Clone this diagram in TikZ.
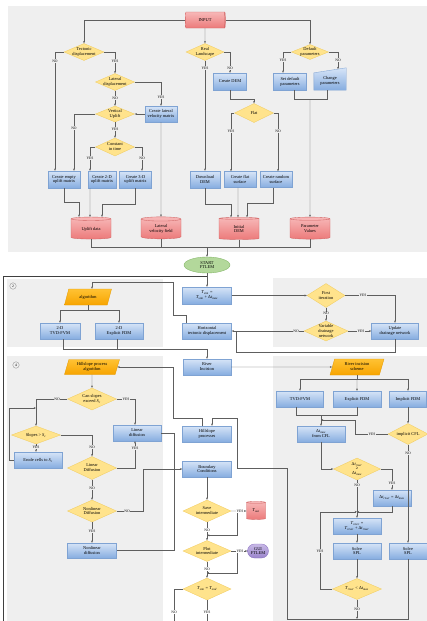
\documentclass[tikz,border=0pt]{standalone}
\usepackage{fontspec}
\setmainfont{Liberation Serif}
\usetikzlibrary{shapes.geometric,shapes.misc,arrows.meta}
\pgfdeclarelayer{bg}
\pgfsetlayers{bg,main}
\definecolor{panelc}{HTML}{EFEFEF}
\definecolor{linec}{HTML}{5E5E5E}
\definecolor{bluetop}{HTML}{D6E4F7}
\definecolor{bluebot}{HTML}{86ADE0}
\definecolor{bluedraw}{HTML}{7FA3D3}
\definecolor{yellfill}{HTML}{FFE38C}
\definecolor{yelldraw}{HTML}{F1CD62}
\definecolor{orgtop}{HTML}{FFC233}
\definecolor{orgbot}{HTML}{F7A400}
\definecolor{orgdraw}{HTML}{E59A00}
\definecolor{redbody}{HTML}{EC7A7A}
\definecolor{redend}{HTML}{F7B8B8}
\definecolor{reddraw}{HTML}{D06464}
\definecolor{grnfill}{HTML}{B3D89B}
\definecolor{grndraw}{HTML}{82B565}
\definecolor{purtop}{HTML}{C8B9E6}
\definecolor{purbot}{HTML}{9A84CC}
\definecolor{purdraw}{HTML}{8B72C2}
\definecolor{loopc}{HTML}{3F3F3F}
\newcommand\figfont{\fontsize{4.4}{4.9}\selectfont}
\newcommand\lblfont{\fontsize{3.7}{4}\selectfont}
\newcommand\vs[2]{\textit{#1}\textsubscript{\textit{#2}}}
\tikzset{
  base/.style={font=\figfont, align=center, inner sep=0pt, line width=0.35pt},
  box/.style={base, rectangle, draw=bluedraw, top color=bluetop, bottom color=bluebot, minimum width=48pt, minimum height=16pt},
  dia/.style={base, diamond, draw=yelldraw, fill=yellfill},
  dtxt/.style={font=\figfont, align=center, inner sep=0pt},
  cylv/.style={base, cylinder, shape border rotate=90, aspect=0.18, draw=reddraw, top color=redend, bottom color=redbody},
  cylh/.style={base, cylinder, aspect=0.4, draw=reddraw, top color=redend, bottom color=redbody},
  para/.style={base, trapezium, trapezium left angle=72, trapezium right angle=108, trapezium stretches=true, draw=orgdraw, top color=orgtop, bottom color=orgbot},
  ln/.style={draw=linec, line width=0.45pt},
  arr/.style={ln, -{Stealth[length=2.3pt,width=1.9pt]}},
  loopln/.style={draw=loopc, line width=0.9pt},
  lbl/.style={font=\lblfont, inner sep=0.4pt, fill=panelc},
  lblw/.style={font=\lblfont, inner sep=0.4pt, fill=white},
  circ/.style={circle, draw=gray, line width=0.3pt, inner sep=0.2pt, minimum size=6.5pt, font=\lblfont}
}
\begin{document}
\begin{tikzpicture}[x=1pt,y=-1pt]
\useasboundingbox (0,0) rectangle (427,621);
\begin{pgfonlayer}{bg}
\fill[white] (0,0) rectangle (427,621);
\fill[panelc] (8,6) rectangle (427,252);
\fill[panelc] (7,279) rectangle (163,347);
\fill[panelc] (273,278) rectangle (427,347);
\fill[panelc] (7,356) rectangle (163,623);
\fill[panelc] (273,356) rectangle (427,623);
\end{pgfonlayer}

% ---------- top input section ----------
\node[cylh, minimum width=16pt, minimum height=40pt] (input) at (205,20) {INPUT};
\node[dia, minimum width=40pt, minimum height=17pt, label={[dtxt]center:{Tectonic\\displacement}}] (tec) at (84,52) {};
\node[dia, minimum width=39pt, minimum height=17pt, label={[dtxt]center:{Lateral\\displacement}}] (lat) at (115,82) {};
\node[box, minimum width=32pt] (clat) at (161,114) {Create lateral\\velocity matrix};
\node[dia, minimum width=39pt, minimum height=16pt, label={[dtxt]center:{Vertical\\Uplift}}] (vup) at (115,114) {};
\node[dia, minimum width=39pt, minimum height=18pt, label={[dtxt]center:{Constant\\in time}}] (const) at (115,147) {};
\node[box, minimum width=32pt, minimum height=17pt] (cempty) at (64,179.5) {Create empty\\uplift matrix};
\node[box, minimum width=28pt, minimum height=17pt] (c2d) at (102,179.5) {Create 2-D\\uplift matrix};
\node[box, minimum width=32pt, minimum height=17pt] (c3d) at (135.5,179.5) {Create 3-D\\uplift matrix};
\node[cylv, minimum width=40pt, minimum height=22pt] (upl) at (91,229) {Uplift data};
\node[cylv, minimum width=40pt, minimum height=22pt] (lvf) at (161,229) {Lateral\\velocity field};

\node[dia, minimum width=38pt, minimum height=17pt, label={[dtxt]center:{Real\\Landscape}}] (real) at (205,52) {};
\node[box, minimum width=33pt, minimum height=17pt] (cdem) at (230,81.5) {Create DEM};
\node[dia, minimum width=39pt, minimum height=19pt, label={[dtxt]center:{Flat}}] (flat) at (254,113) {};
\node[box, minimum width=30pt, minimum height=17pt] (ddem) at (205,179.5) {Download\\DEM};
\node[box, minimum width=32pt] (cflat) at (240,179.5) {Create flat\\surface};
\node[box, minimum width=32pt] (crand) at (276,179.5) {Create random\\surface};
\node[cylv, minimum width=40pt, minimum height=22pt] (idem) at (239,229) {Initial\\DEM};

\node[dia, minimum width=37pt, minimum height=15pt, label={[dtxt]center:{Default\\parameters}}] (def) at (310,52) {};
\node[box, minimum width=33pt, minimum height=17pt] (sdef) at (290,81.5) {Set default\\parameters};
\node[base, minimum width=32pt, minimum height=18pt] (chg) at (330,81) {Change\\parameters};
\node[cylv, minimum width=40pt, minimum height=22pt] (par) at (310,229) {Parameter\\Values};
\begin{pgfonlayer}{bg}
\shade[top color=bluetop, bottom color=bluebot, draw=bluedraw, line width=0.35pt]
  (chg.south west) -- ([yshift=-1pt]chg.north west) -- ([yshift=4pt]chg.north east) -- (chg.south east) -- cycle;
\end{pgfonlayer}

\node[base, ellipse, draw=grndraw, fill=grnfill, minimum width=46pt, minimum height=16pt] (start) at (207,265) {START\\FTLEM};

\draw[arr] (input.west) -| (tec.north);
\draw[arr] (input.south) -- (real.north);
\draw[arr] (input.east) -| (def.north);
\draw[arr] (tec.west) -| ([xshift=-9pt]cempty.north);
\draw[arr] (tec.east) -| (lat.north);
\draw[arr] (lat.east) -| (clat.north);
\draw[arr] (lat.south) -- (vup.north);
\draw[arr] (clat.west) -- (vup.east);
\draw[arr] (vup.west) -| ([xshift=10pt]cempty.north);
\draw[arr] (vup.south) -- (const.north);
\draw[arr] (const.west) -| ([xshift=-12pt]c2d.north);
\draw[arr] (const.east) -| ([xshift=6.5pt]c3d.north);
\draw[arr] (cempty.south) -- ++(0,14) -| ([xshift=-12pt]upl.north);
\draw[arr] ([xshift=-12pt]c2d.south) -- ([xshift=-1pt]upl.north);
\draw[arr] (c3d.south) -- ++(0,16) -| ([xshift=11pt]upl.north);
\draw[arr] (clat.south) -- (lvf.north);
\draw[arr] (real.south) -- (ddem.north);
\draw[arr] (real.east) -| (cdem.north);
\draw[arr] (cdem.south) -- ++(0,9) -| (flat.north);
\draw[arr] (flat.west) -| ([xshift=-9pt]cflat.north);
\draw[arr] (flat.east) -| ([xshift=2pt]crand.north);
\draw[arr] (ddem.south) -- ++(0,16) -| ([xshift=-8pt]idem.north);
\draw[arr] ([xshift=-2pt]cflat.south) -- ([xshift=-1pt]idem.north);
\draw[arr] ([xshift=-3pt]crand.south) -- ++(0,16) -| ([xshift=8pt]idem.north);
\draw[arr] (def.west) -| ([xshift=-7pt]sdef.north);
\draw[arr] (def.east) -| ([xshift=8pt,yshift=2.7pt]chg.north);
\coordinate (jdef) at (310,99);
\draw[ln] ([xshift=4pt]sdef.south) |- (jdef);
\draw[ln] ([xshift=-3pt]chg.south) |- (jdef);
\draw[arr] (jdef) -- (par.north);
\draw[ln] (upl.south) -- ++(0,8) -| (par.south);
\draw[ln] (lvf.south) -- ++(0,8);
\draw[ln] (idem.south) -- ++(0,8);
\coordinate (jb) at (207,248);
\draw[arr] (jb) -- (start.north);

% ---------- main loop column ----------
\node[box, minimum width=49pt, minimum height=17pt] (tsim) at (207,295.5) {\vs{T}{sim} =\\\vs{T}{sim} + Δ\vs{t}{max}};
\node[box, minimum width=49pt] (hor) at (207,331) {Horizontal\\tectonic displacement};
\node[box] (riv) at (207,367) {River\\Incision};
\node[box, minimum width=49pt] (hp) at (207,434) {Hillslope\\processes};
\node[box, minimum width=49pt] (bc) at (207,469) {Boundary\\Conditions};
\node[dia, minimum width=48pt, minimum height=22pt, label={[dtxt]center:{Save\\intermediate}}] (sav) at (207,511) {};
\node[dia, minimum width=48pt, minimum height=21pt, label={[dtxt]center:{Plot\\intermediate}}] (plt) at (207,551) {};
\node[dia, minimum width=48pt, minimum height=22pt, label={[dtxt]center:{\vs{T}{sim} = \vs{T}{end}}}] (tsend) at (207,589) {};
\node[cylv, aspect=0.26, minimum width=19pt, minimum height=18pt] (tout) at (256,511) {\vs{T}{out}};
\node[base, rounded rectangle, draw=purdraw, top color=purtop, bottom color=purbot, minimum width=21pt, minimum height=14pt] (gui) at (258,551) {GUI\\FTLEM};

\draw[arr] (start.south) -- (tsim.north);
\coordinate (lpA) at (174,623);
\coordinate (lpB) at (3,623);
\coordinate (lpC) at (3,276);
\coordinate (lpD) at (207,276);
\draw[ln] (tsend.west) -| (lpA);
\draw[loopln] (lpA) -- (lpB) -- (lpC) -- (lpD);
\coordinate (endc) at (207,623);
\draw[ln] (tsend.south) -- (endc);

% ---------- section 2 ----------
\node[circ] (c2) at (13,286) {2};
\node[para, minimum width=47pt, minimum height=16pt] (alg) at (88,297) {\mbox{}\\algorithm};
\node[box, minimum width=40pt] (tvd1) at (60,331) {2-D\\TVD-FVM};
\node[box] (efdm1) at (119,331) {2-D\\Explicit FDM};
\coordinate (hA) at (173,315);
\coordinate (hB) at (173,282);
\draw[arr] ([xshift=-21pt]hor.north) |- (hA) -- (hB) -| ([xshift=4pt]alg.north);
\draw[ln] (alg.south) -- ++(0,5) coordinate (aj);
\draw[arr] (aj) -| (tvd1.north);
\draw[arr] (aj) -| (efdm1.north);
\draw[arr] ([xshift=3pt]tvd1.south) |- ([yshift=10pt]riv.north) -- (riv.north);
\draw[ln] ([xshift=-2pt]efdm1.south) -- ++(0,10);

% ---------- section 3 ----------
\node[dia, minimum width=38pt, minimum height=24pt, label={[dtxt]center:{First\\iteration}}] (fit) at (326,295.5) {};
\node[dia, minimum width=44pt, minimum height=20pt, label={[dtxt]center:{Variable\\drainage\\network}}] (vdn) at (326,331) {};
\node[box, minimum width=47pt] (upd) at (395,331) {Update\\drainage network};
\draw[arr] (tsim.east) -- (fit.west);
\draw[arr] (fit.east) -| (upd.north);
\draw[arr] (fit.south) -- (vdn.north);
\draw[arr] (vdn.east) -- (upd.west);
\draw[arr] (vdn.west) -- (hor.east);
\draw[ln] (upd.south) -- ++(0,13) -| ([xshift=5pt]hor.east);

% ---------- section 4 ----------
\node[circ] (c4) at (16,365) {4};
\node[para, minimum width=55pt, minimum height=15pt] (hpa) at (92,367) {Hillslope process\\algorithm};
\node[dia, minimum width=49pt, minimum height=22pt, label={[dtxt]center:{Can slopes\\exceed \vs{S}{c}}}] (cse) at (92,399) {};
\node[dia, minimum width=49pt, minimum height=18pt, label={[dtxt]center:{Slopes > \vs{S}{c}}}] (slp) at (36,435) {};
\node[box] (ero) at (38,460) {Erode cells to \vs{S}{c}};
\node[box] (lbox) at (137,433) {Linear\\diffusion};
\node[dia, minimum width=49pt, minimum height=23pt, label={[dtxt]center:{Linear\\Diffusion}}] (lind) at (92,468) {};
\node[dia, minimum width=49pt, minimum height=22pt, label={[dtxt]center:{Nonlinear\\Diffusion}}] (nld) at (92,511) {};
\node[box, minimum width=49pt, minimum height=15pt] (nlbox) at (92,550.5) {Nonlinear\\diffusion};
\coordinate (hq) at (173,418);
\draw[arr] ([xshift=-5pt]hp.north) |- (hq) |- (hpa.east);
\draw[arr] (hpa.south) -- (cse.north);
\draw[arr] (cse.west) -| (slp.north);
\draw[arr] (cse.east) -| ([xshift=-2pt]lbox.north);
\draw[arr] (slp.south) -- (slp.south |- ero.north);
\coordinate (eT) at (36,408);
\draw[arr] (ero.west) -- ++(-5,0) |- (eT);
\draw[arr] (slp.east) -| (lind.north);
\draw[arr] (lind.east) -| ([xshift=-2pt]lbox.south);
\draw[arr] (lind.south) -- (nld.north);
\draw[arr] (nld.south) -- (nlbox.north);
\draw[arr] (nld.east) -- ++(26.5,0) |- (bc.west);
\coordinate (dj) at (174,550.5);
\draw[ln] (lbox.east) -| (dj) -- (nlbox.east);

% ---------- middle lower ----------
\draw[arr] (bc.south) -- (sav.north);
\draw[arr] (sav.east) -- (tout.west);
\draw[arr] ([xshift=6pt]sav.east) |- ([yshift=5pt]plt.north);
\draw[arr] (sav.south) -- (plt.north);
\draw[arr] (plt.east) -- (gui.west);
\draw[arr] ([xshift=6pt]plt.east) |- ([yshift=5pt]tsend.north);
\draw[arr] (plt.south) -- (tsend.north);

% ---------- section 5 ----------
\node[para, minimum width=54pt, minimum height=16pt] (ris) at (357,367) {River incision\\scheme};
\node[box, minimum width=47pt] (tvd2) at (300,399) {TVD-FVM};
\node[box] (efdm2) at (357,399) {Explicit FDM};
\node[box, minimum width=37pt] (ifdm) at (408,399) {Implicit FDM};
\node[box] (dtc) at (321,434) {Δ\vs{t}{max}\\from CFL};
\node[dia, minimum width=40pt, minimum height=21pt, label={[dtxt]center:{implicit CFL}}] (icfl) at (408,434) {};
\node[dia, minimum width=47pt, minimum height=22pt, label={[dtxt]center:{Δ\vs{t}{river}\\≥\\Δ\vs{t}{max}}}] (cmp) at (357,469) {};
\node[box, minimum width=38pt] (prv) at (392,498) {Δ\vs{t}{river} = Δ\vs{t}{max}};
\node[box] (trv) at (357,526) {\vs{T}{river} =\\\vs{T}{river} + Δ\vs{t}{river}};
\node[box] (ssp1) at (357,551) {Solve\\SPL};
\node[box, minimum width=38pt] (ssp2) at (408,551) {Solve\\SPL};
\node[dia, minimum width=49pt, minimum height=21pt, label={[dtxt]center:{\vs{T}{river} < Δ\vs{t}{max}}}] (trd) at (357,589) {};

\draw[arr] (riv.east) -- (ris.west);
\draw[ln] (ris.south) -- ++(0,4) coordinate (sj);
\draw[arr] (sj) -| (tvd2.north);
\draw[arr] (sj) -- (efdm2.north);
\draw[arr] (sj) -| (ifdm.north);
\draw[ln] ([xshift=-4pt]tvd2.south) -- ++(0,8) -| (efdm2.south);
\coordinate (mj) at (321,415);
\draw[arr] (mj) -- (dtc.north);
\coordinate (yj) at (321,420);
\draw[arr] (icfl.west) -- ++(-33,0) |- (yj);
\draw[arr] (ifdm.south) -- (icfl.north);
\draw[arr] (icfl.south) -- (ssp2.north);
\draw[arr] (dtc.south) |- (cmp.west);
\draw[arr] (cmp.east) -| (prv.north);
\draw[arr] (cmp.south) -- (trv.north);
\draw[arr] (prv.south) |- ([yshift=6pt]trv.north);
\draw[arr] (trv.south) -- (ssp1.north);
\draw[arr] (ssp1.south) -- (trd.north);
\draw[arr] (trd.west) -- ++(-12.5,0) |- ([yshift=6pt]trv.north);
\coordinate (rA) at (287,619);
\coordinate (rB) at (237,468);
\coordinate (rC) at (212,418);
\draw[arr] (ssp2.south) |- (rA) |- (rB) |- (rC) -- ([xshift=5pt]hp.north);
\coordinate (rD) at (357,619);
\draw[arr] (trd.south) -- (rD);

% ---------- labels ----------
\node[lbl] (t1) at (55,61) {NO};
\node[lbl] (t2) at (115,61) {YES};
\node[lbl] (t3) at (115,98) {NO};
\node[lbl] (t4) at (161,97) {YES};
\node[lbl] (t5) at (74,128) {NO};
\node[lbl] (t6) at (115,129) {YES};
\node[lbl] (t7) at (90,158) {YES};
\node[lbl] (t8) at (142,158) {NO};
\node[lbl] (t9) at (205,68) {YES};
\node[lbl] (t10) at (230,68) {NO};
\node[lbl] (t11) at (231,131) {YES};
\node[lbl] (t12) at (278,131) {NO};
\node[lbl] (t13) at (283,60) {YES};
\node[lbl] (t14) at (338,60) {NO};
\node[lbl] (t15) at (363,295.5) {YES};
\node[lbl] (t16) at (326,313.5) {NO};
\node[lbl] (t17) at (361,331) {YES};
\node[lbl] (t18) at (296,331) {NO};
\node[lbl] (t19) at (57,399) {NO};
\node[lbl] (t20) at (126,399) {YES};
\node[lbl] (t21) at (36,447.5) {YES};
\node[lbl] (t22) at (92,447) {NO};
\node[lbl] (t23) at (135,448) {YES};
\node[lbl] (t24) at (92,488) {NO};
\node[lbl] (t25) at (92,531) {YES};
\node[lbl] (t26) at (127,511) {NO};
\node[lblw] (t27) at (240,511) {YES};
\node[lblw] (t28) at (207,530) {NO};
\node[lblw] (t29) at (240,551) {YES};
\node[lblw] (t30) at (207,569) {NO};
\node[lblw] (t31) at (174,612) {NO};
\node[lblw] (t32) at (207,612) {YES};
\node[lbl] (t33) at (372,434) {YES};
\node[lbl] (t34) at (408,453) {NO};
\node[lbl] (t35) at (392,483) {YES};
\node[lbl] (t36) at (357,485) {NO};
\node[lbl] (t37) at (320,551) {YES};
\node[lbl] (t38) at (357,609) {NO};
\end{tikzpicture}
\end{document}
